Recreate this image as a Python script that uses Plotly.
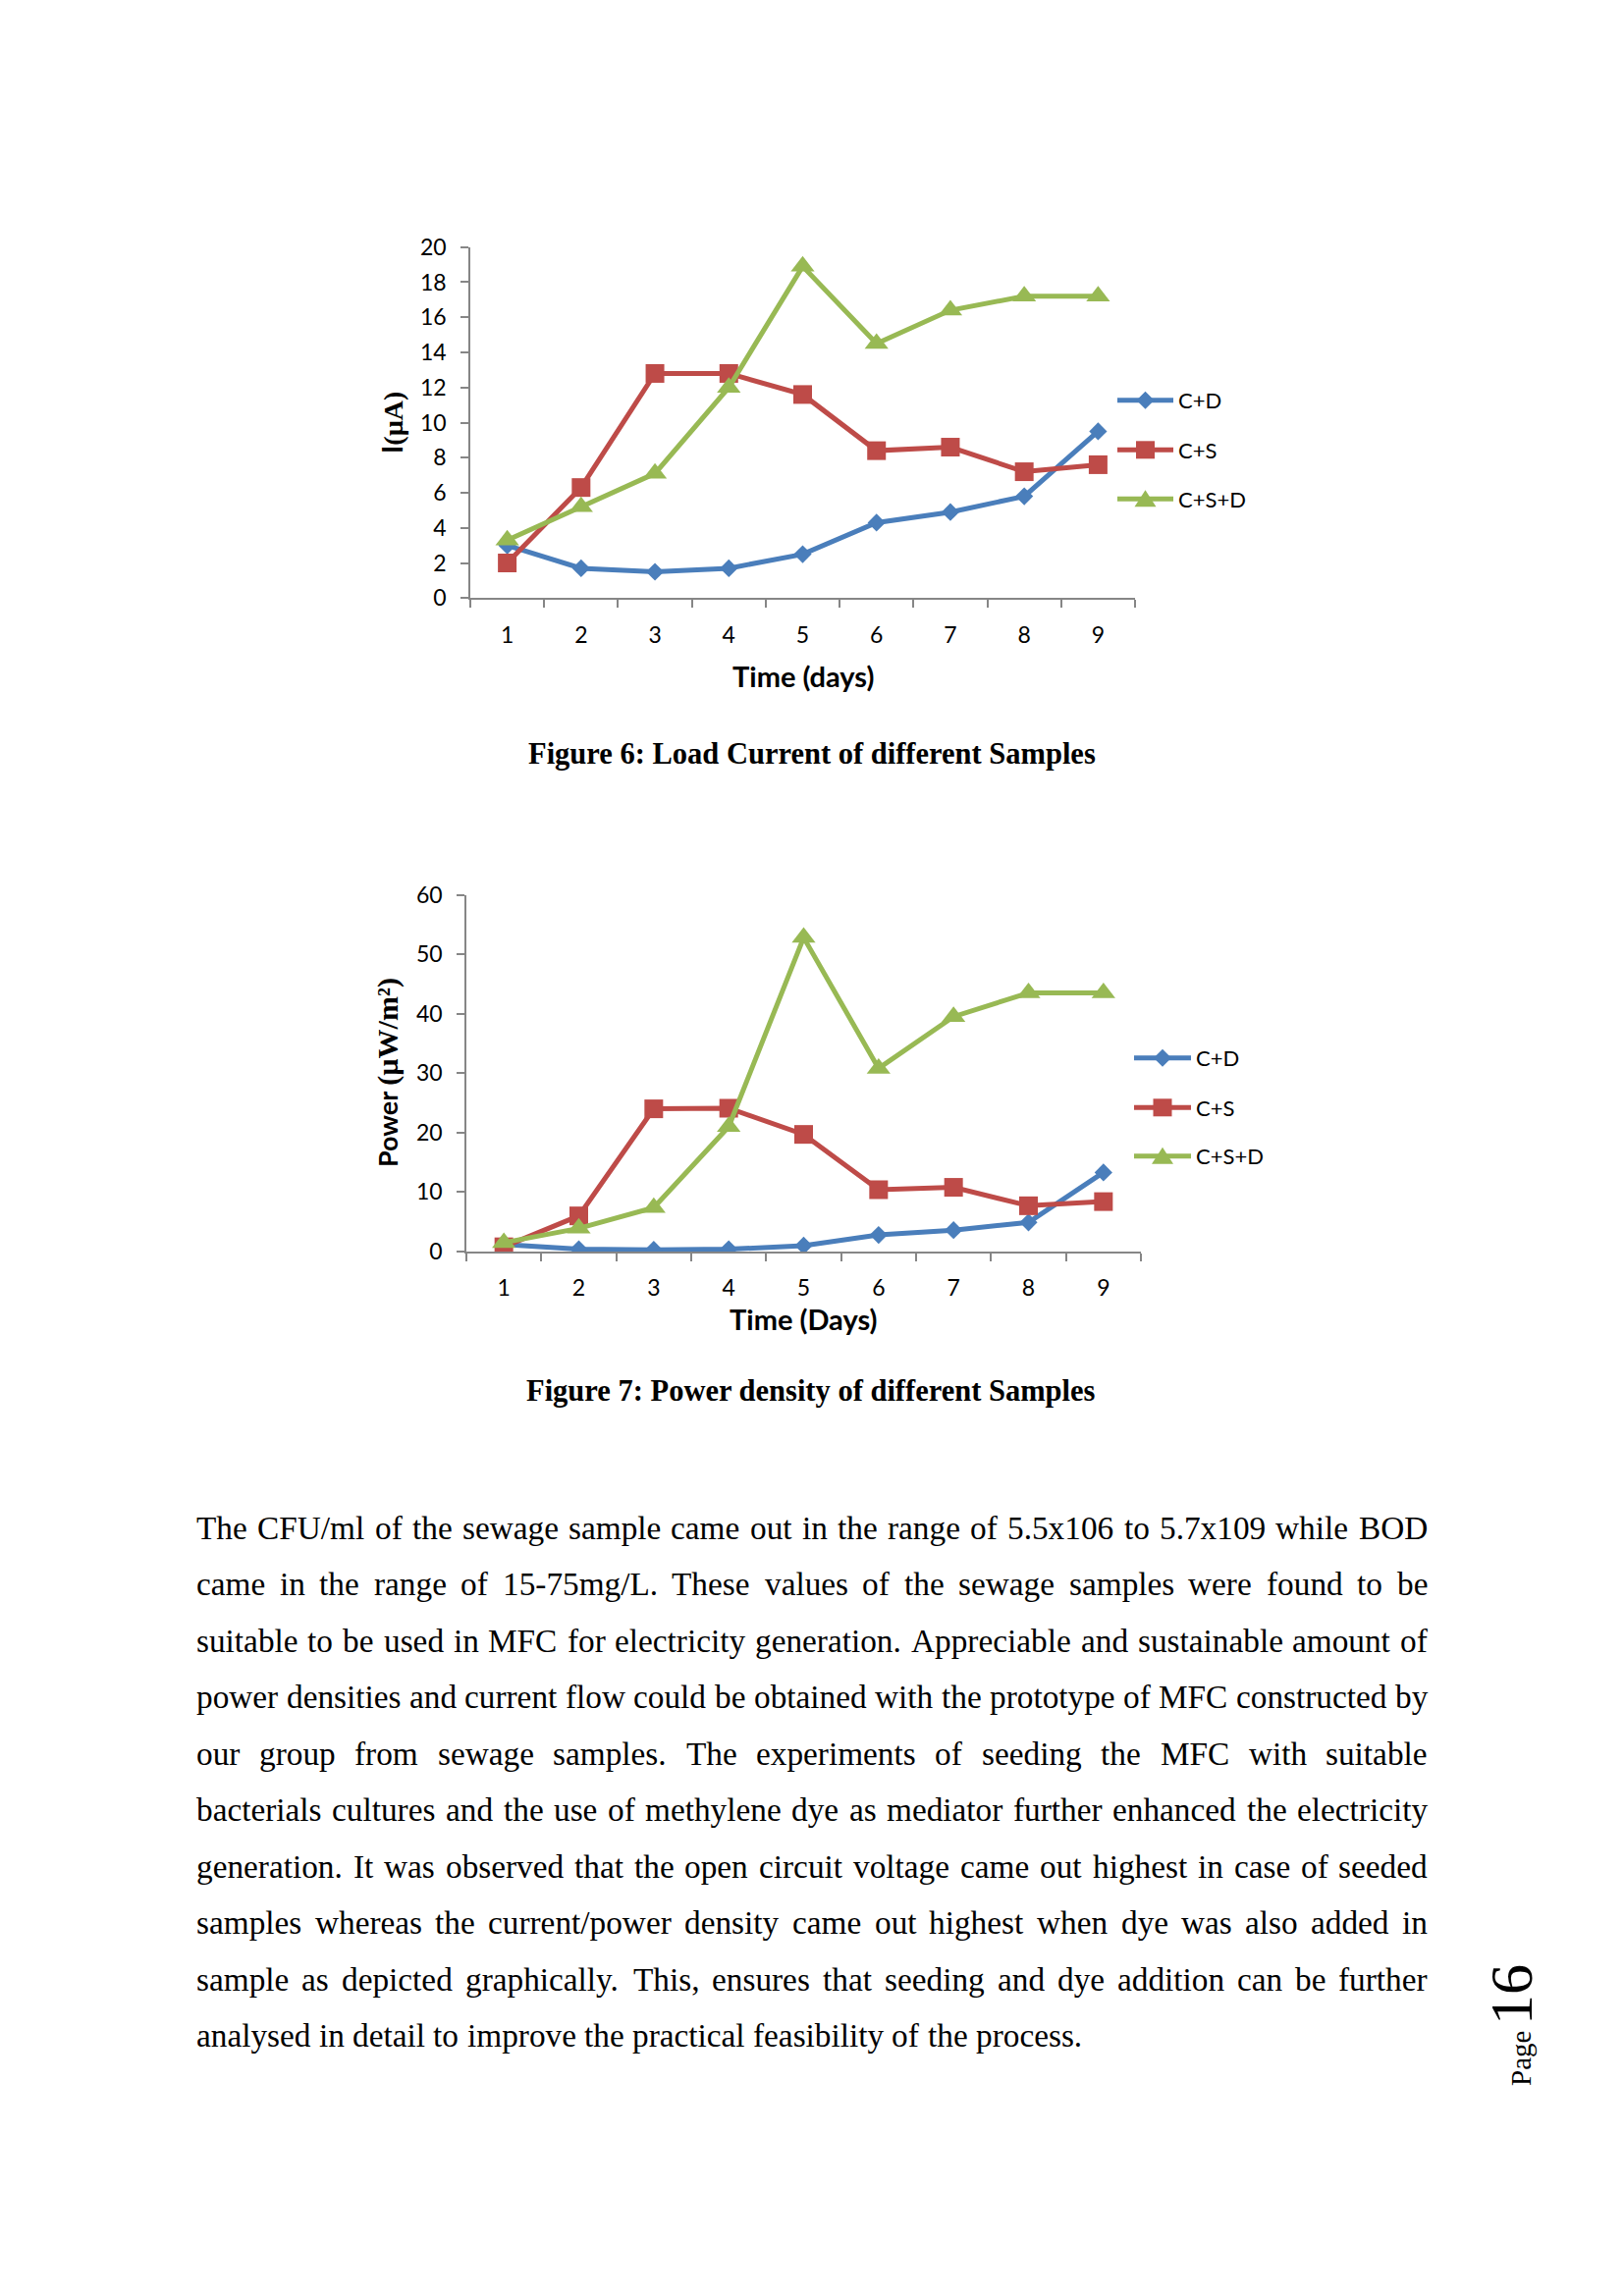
import plotly.graph_objects as go

# ---------------- data ----------------
days = ["1", "2", "3", "4", "5", "6", "7", "8", "9"]
series_names = ["C+D", "C+S", "C+S+D"]
current_cd = [3.0, 1.7, 1.5, 1.7, 2.5, 4.3, 4.9, 5.8, 9.5]
current_cs = [2.0, 6.3, 12.8, 12.8, 11.6, 8.4, 8.6, 7.2, 7.6]
current_csd = [3.3, 5.2, 7.1, 12.0, 18.9, 14.5, 16.4, 17.2, 17.2]
power_cd = [1.2, 0.4, 0.3, 0.4, 1.0, 2.8, 3.6, 4.9, 13.3]
power_cs = [0.8, 6.0, 24.0, 24.1, 19.7, 10.4, 10.8, 7.7, 8.4]
power_csd = [1.5, 3.9, 7.4, 21.0, 52.8, 30.8, 39.5, 43.5, 43.5]
current_ticks = [0, 2, 4, 6, 8, 10, 12, 14, 16, 18, 20]
power_ticks = [0, 10, 20, 30, 40, 50, 60]

caption1 = "Figure 6: Load Current of different Samples"
caption2 = "Figure 7: Power density of different Samples"
body_lines = [
    "The CFU/ml of the sewage sample came out in the range of 5.5x106 to 5.7x109 while BOD",
    "came in the range of 15-75mg/L. These values of the sewage samples were found to be",
    "suitable to be used in MFC for electricity generation. Appreciable and sustainable amount of",
    "power densities and current flow could be obtained with the prototype of MFC constructed by",
    "our group from sewage samples. The experiments of seeding the MFC with suitable",
    "bacterials cultures and the use of methylene dye as mediator further enhanced the electricity",
    "generation. It was observed that the open circuit voltage came out highest in case of seeded",
    "samples whereas the current/power density came out highest when dye was also added in",
    "sample as depicted graphically. This, ensures that seeding and dye addition can be further",
    "analysed in detail to improve the practical feasibility of the process.",
]

# ---------------- page geometry ----------------
PAGE_W, PAGE_H = 1654, 2339
OFF = 8  # default body margin of the html page
W, H = PAGE_W - 2 * OFF, PAGE_H - 2 * OFF - 4


def X(px):
    return (px - OFF) / W


def Y(py):
    return 1 - (py - OFF) / H


colors = ["#4A7EBB", "#BE4B48", "#98B954"]
symbols = ["diamond", "square", "triangle-up"]
msizes = [14, 19, 21]
AX_GRAY = "#868686"
SANS = "Lato"
SERIF = "Liberation Serif"

fig = go.Figure()

for i, (name, ys) in enumerate(zip(series_names, [current_cd, current_cs, current_csd])):
    fig.add_trace(go.Scatter(
        x=days, y=ys, name=name, mode="lines+markers",
        line=dict(color=colors[i], width=5),
        marker=dict(symbol=symbols[i], size=msizes[i], color=colors[i]),
        xaxis="x", yaxis="y", showlegend=False,
    ))
for i, (name, ys) in enumerate(zip(series_names, [power_cd, power_cs, power_csd])):
    fig.add_trace(go.Scatter(
        x=days, y=ys, name=name, mode="lines+markers",
        line=dict(color=colors[i], width=5),
        marker=dict(symbol=symbols[i], size=msizes[i], color=colors[i]),
        xaxis="x2", yaxis="y2", showlegend=False,
    ))

tickfont = dict(family=SANS, size=23, color="black")


def xaxis_cfg(dom, anchor):
    return dict(domain=dom, anchor=anchor, type="category", range=[-0.5, 8.5],
                tickson="boundaries", ticks="outside", ticklen=8, tickwidth=1.5,
                tickcolor=AX_GRAY, showline=True, linecolor=AX_GRAY, linewidth=1.5,
                showgrid=False, zeroline=False, tickfont=tickfont,
                ticklabelstandoff=16, fixedrange=True)


def yaxis_cfg(dom, anchor, rng, vals):
    return dict(domain=dom, anchor=anchor, range=rng, tickvals=vals,
                ticks="outside", ticklen=8, tickwidth=1.5, tickcolor=AX_GRAY,
                showline=True, linecolor=AX_GRAY, linewidth=1.5, showgrid=False,
                zeroline=False, tickfont=tickfont, ticklabelstandoff=10, fixedrange=True)


fig.update_layout(
    width=W, height=H,
    margin=dict(l=0, r=0, t=0, b=0, autoexpand=False),
    paper_bgcolor="white", plot_bgcolor="white",
    showlegend=False,
    xaxis=xaxis_cfg([X(479), X(1156)], "y"),
    yaxis=yaxis_cfg([Y(609.3), Y(251.7)], "x", [0, 20], current_ticks),
    xaxis2=xaxis_cfg([X(475), X(1162)], "y2"),
    yaxis2=yaxis_cfg([Y(1275), Y(911.5)], "x2", [0, 60], power_ticks),
)

shapes = []
ann = []

# ---- legends (drawn as symbol samples + text labels) ----
legend_rows = [
    (1138, 1195, 1200, [407.7, 458.3, 508.3]),
    (1155, 1213, 1218, [1077.7, 1128.3, 1177.7]),
]
for (lx0, lx1, tx, rows) in legend_rows:
    cx = (lx0 + lx1) / 2
    for i, cy in enumerate(rows):
        shapes.append(dict(type="line", xref="paper", yref="paper",
                           x0=X(lx0), x1=X(lx1), y0=Y(cy), y1=Y(cy),
                           line=dict(color=colors[i], width=5)))
        if symbols[i] == "diamond":
            path = "M{},{} L{},{} L{},{} L{},{} Z".format(
                X(cx - 9), Y(cy), X(cx), Y(cy - 9), X(cx + 9), Y(cy), X(cx), Y(cy + 9))
        elif symbols[i] == "square":
            path = "M{},{} L{},{} L{},{} L{},{} Z".format(
                X(cx - 9.5), Y(cy - 9), X(cx + 9.5), Y(cy - 9), X(cx + 9.5), Y(cy + 9),
                X(cx - 9.5), Y(cy + 9))
        else:
            path = "M{},{} L{},{} L{},{} Z".format(
                X(cx - 11), Y(cy + 8), X(cx + 11), Y(cy + 8), X(cx), Y(cy - 9))
        shapes.append(dict(type="path", xref="paper", yref="paper", path=path,
                           fillcolor=colors[i], line=dict(width=0)))
        ann.append(dict(x=X(tx), y=Y(cy), text=series_names[i], xanchor="left",
                        font=dict(family=SANS, size=22, color="black")))

# axis titles
ann.append(dict(x=X(818), y=Y(688), text="<b>Time (days)</b>",
                font=dict(family=SANS, size=29, color="black")))
ann.append(dict(x=X(818), y=Y(1343), text="<b>Time (Days)</b>",
                font=dict(family=SANS, size=29, color="black")))
ann.append(dict(x=X(399), y=Y(431), textangle=-90,
                text="<b>I<span style='font-family:Liberation Serif'>(µA)</span></b>",
                font=dict(family=SANS, size=28, color="black")))
ann.append(dict(x=X(395), y=Y(1093), textangle=-90,
                text="<b>Power <span style='font-family:Liberation Serif;font-size:30px'>(µW/m²)</span></b>",
                font=dict(family=SANS, size=27, color="black")))
# captions
ann.append(dict(x=X(827), y=Y(768), text="<b>" + caption1 + "</b>",
                font=dict(family=SERIF, size=30.5, color="black")))
ann.append(dict(x=X(826), y=Y(1417), text="<b>" + caption2 + "</b>",
                font=dict(family=SERIF, size=30.5, color="black")))
# page number
ann.append(dict(x=X(1539), y=Y(2032), textangle=-90, text="16",
                font=dict(family=SERIF, size=62, color="black")))
ann.append(dict(x=X(1549), y=Y(2097), textangle=-90, text="Page",
                font=dict(family=SERIF, size=29, color="black")))

# body text, justified, Times metrics (Liberation Serif is metric compatible)
TW = {' ': 250, '!': 333, '"': 408, '#': 500, '$': 500, '%': 833, '&': 778, "'": 180,
      '(': 333, ')': 333, '*': 500, '+': 564, ',': 250, '-': 333, '.': 250, '/': 278,
      ':': 278, ';': 278, '<': 564, '=': 564, '>': 564, '?': 444, '@': 921,
      'A': 722, 'B': 667, 'C': 667, 'D': 722, 'E': 611, 'F': 556, 'G': 722, 'H': 722,
      'I': 333, 'J': 389, 'K': 722, 'L': 611, 'M': 889, 'N': 722, 'O': 722, 'P': 556,
      'Q': 722, 'R': 667, 'S': 556, 'T': 611, 'U': 722, 'V': 722, 'W': 944, 'X': 722,
      'Y': 722, 'Z': 611, 'a': 444, 'b': 500, 'c': 444, 'd': 500, 'e': 444, 'f': 333,
      'g': 500, 'h': 500, 'i': 278, 'j': 278, 'k': 500, 'l': 278, 'm': 778, 'n': 500,
      'o': 500, 'p': 500, 'q': 500, 'r': 333, 's': 389, 't': 278, 'u': 500, 'v': 500,
      'w': 722, 'x': 500, 'y': 500, 'z': 444}
for d in "0123456789":
    TW[d] = 500
FS = 33.3


def tw(s):
    return sum(TW.get(c, 500) for c in s) / 1000.0 * FS


LEFT, RIGHT = 200, 1454
LINE0, STEP = 1556, 57.5
for li, line in enumerate(body_lines):
    yy = LINE0 + li * STEP
    words = line.split(" ")
    if li == len(body_lines) - 1:
        gap = tw(" ")
    else:
        gap = (RIGHT - LEFT - sum(tw(w) for w in words)) / (len(words) - 1)
    xx = LEFT
    for w in words:
        ann.append(dict(x=X(xx), y=Y(yy), text=w, xanchor="left",
                        font=dict(family=SERIF, size=FS, color="black")))
        xx += tw(w) + gap

for a in ann:
    a.setdefault("xanchor", "center")
    a.update(xref="paper", yref="paper", showarrow=False, yanchor="middle",
             borderpad=0, borderwidth=0)
fig.update_layout(annotations=ann, shapes=shapes)

fig.write_html("out.html")
